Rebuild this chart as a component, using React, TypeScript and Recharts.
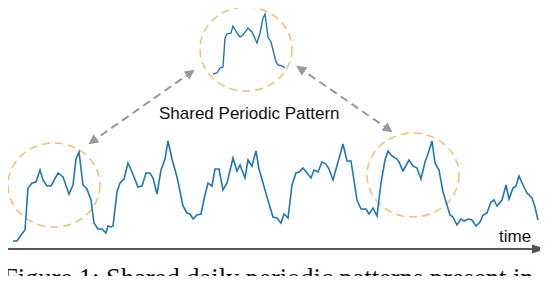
import React from 'react';
import { LineChart, Line, XAxis, YAxis } from 'recharts';

// Main time series (time index, value)
const mainTime = [13, 17, 21, 25, 28, 32, 36, 40, 43, 47, 51, 58, 63, 69, 73, 76, 79, 83, 87, 91, 94, 98, 102, 106, 108, 111, 113, 117, 120, 124, 128, 132, 138, 142, 146, 150, 153, 157, 161, 165, 168, 172, 177, 183, 187, 190, 193, 197, 201, 205, 208, 212, 215, 219, 223, 227, 233, 237, 240, 245, 248, 252, 256, 259, 267, 273, 277, 281, 284, 288, 292, 296, 299, 303, 311, 314, 318, 322, 326, 329, 333, 343, 347, 351, 357, 361, 366, 369, 373, 377, 381, 385, 388, 392, 397, 399, 403, 409, 413, 417, 421, 425, 428, 432, 435, 439, 443, 447, 450, 453, 457, 461, 464, 468, 472, 476, 480, 483, 487, 491, 494, 497, 502, 506, 509, 513, 516, 519, 523, 527, 532, 535, 538];
const mainValue = [8, 8, 14, 19, 61, 66, 67, 79, 69, 63, 63, 76, 72, 55, 64, 90, 97, 64, 60, 49, 26, 20, 20, 16, 23, 22, 23, 57, 66, 70, 86, 77, 62, 63, 76, 76, 71, 55, 79, 90, 108, 90, 72, 43, 36, 35, 30, 34, 35, 54, 66, 63, 80, 80, 59, 66, 91, 78, 84, 71, 89, 83, 98, 80, 52, 32, 31, 26, 35, 31, 64, 76, 77, 81, 71, 79, 77, 87, 85, 80, 69, 105, 88, 88, 49, 40, 40, 35, 41, 33, 66, 89, 98, 93, 90, 87, 78, 89, 83, 81, 70, 87, 95, 108, 86, 79, 57, 44, 34, 32, 24, 30, 28, 30, 29, 23, 27, 34, 36, 47, 49, 43, 49, 64, 50, 61, 63, 73, 64, 56, 51, 42, 29];

// Inset: one shared daily pattern
const insetTime = [213, 217, 220, 223, 225, 227, 231, 233, 237, 240, 243, 248, 252, 257, 260, 263, 265, 268, 271, 276, 278, 282, 285];
const insetValue = [175, 176, 181, 182, 211, 215, 216, 223, 216, 212, 214, 221, 217, 206, 216, 231, 235, 212, 207, 187, 184, 183, 181];

const annotationText = 'Shared Periodic Pattern';
const axisLabel = 'time';
const captionText = 'Figure 1: Shared daily periodic patterns present in';

const mainData = mainTime.map((t, i) => ({ t, v: mainValue[i] }));
const insetData = insetTime.map((t, i) => ({ t, v: insetValue[i] }));

const ELLIPSE = '#EDC47A';
const ARROW = '#999999';

export default function App() {
  return (
    <div style={{ position: 'relative', width: 548, height: 284, margin: -8, overflow: 'hidden', background: '#fff' }}>
      <svg style={{ position: 'absolute', left: 0, top: 0 }} width={548} height={284}>
        <defs>
          <marker id="ah" viewBox="0 0 10 10" refX="8" refY="5" markerWidth="5" markerHeight="5" orient="auto-start-reverse">
            <path d="M0,0 L10,5 L0,10 z" fill={ARROW} />
          </marker>
        </defs>
        {/* dashed frame */}
        <path d="M3.5,249 L3.5,1.5 L545.5,1.5 L545.5,249" fill="none" stroke="#c4c4c4" strokeWidth={1} strokeDasharray="6 3" />
        {/* ellipses */}
        <ellipse cx={246} cy={49} rx={46} ry={42} fill="none" stroke={ELLIPSE} strokeWidth={1.6} strokeDasharray="8 5" />
        <ellipse cx={54} cy={185} rx={46} ry={42} fill="none" stroke={ELLIPSE} strokeWidth={1.6} strokeDasharray="8 5" />
        <ellipse cx={413} cy={175} rx={46} ry={42} fill="none" stroke={ELLIPSE} strokeWidth={1.6} strokeDasharray="8 5" />
        {/* arrows */}
        <line x1={90} y1={143} x2={193} y2={71} stroke={ARROW} strokeWidth={2} strokeDasharray="8 5" markerStart="url(#ah)" markerEnd="url(#ah)" />
        <line x1={298} y1={67} x2={391} y2={131} stroke={ARROW} strokeWidth={2} strokeDasharray="8 5" markerStart="url(#ah)" markerEnd="url(#ah)" />
        {/* labels */}
        <text x={159} y={119} fontFamily="'Liberation Sans', Arial, sans-serif" fontSize={17} fill="#111">{annotationText}</text>
        <text x={499} y={242} fontFamily="'Liberation Sans', Arial, sans-serif" fontSize={17} fill="#111">{axisLabel}</text>
        {/* time axis */}
        <line x1={3} y1={249} x2={534} y2={249} stroke="#555" strokeWidth={2} />
        <polygon points="532,244.5 546,249 532,253.5" fill="#555" />
        {/* caption */}
        <text x={3} y={287} fontFamily="'Liberation Serif', 'Times New Roman', serif" fontSize={26.5} fill="#111">{captionText}</text>
      </svg>
      <div style={{ position: 'absolute', left: 0, top: 0 }}>
        <LineChart width={548} height={284} margin={{ top: 0, right: 0, bottom: 0, left: 0 }}>
          <XAxis type="number" dataKey="t" domain={[0, 548]} hide allowDataOverflow />
          <YAxis type="number" domain={[-35, 249]} hide width={0} allowDataOverflow />
          <Line data={mainData} dataKey="v" stroke="#1f77b4" strokeWidth={1.6} dot={false} isAnimationActive={false} />
          <Line data={insetData} dataKey="v" stroke="#1f77b4" strokeWidth={1.4} dot={false} isAnimationActive={false} />
        </LineChart>
      </div>
    </div>
  );
}
